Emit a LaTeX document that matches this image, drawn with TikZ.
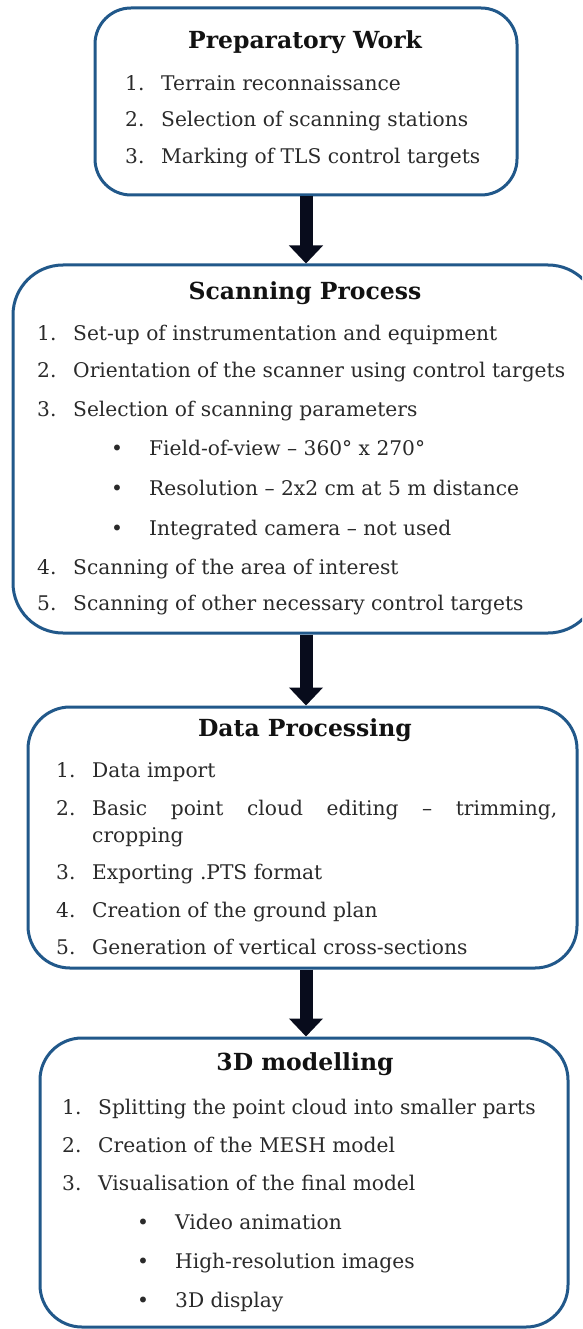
\documentclass[tikz,border=0pt]{standalone}
\usepackage{fontspec}
\setmainfont{DejaVu Serif}
\usetikzlibrary{arrows.meta}

\definecolor{boxblue}{RGB}{33,88,138}
\definecolor{inkgray}{RGB}{42,42,42}
\definecolor{titleink}{RGB}{18,18,18}
\definecolor{arrowink}{RGB}{8,12,28}

% number column and bullet column of the step lists
\newcommand\stepno[1]{\makebox[36pt][l]{#1}}
\newcommand\bulletmark{\makebox[38pt][l]{\textbullet}}

\begin{document}
\begin{tikzpicture}[x=1pt,y=-1pt,
  stage/.style={draw=boxblue, line width=3pt, rounded corners=#1, inner sep=0pt, fill=white},
  heading/.style={font=\bfseries\fontsize{23.5}{28}\selectfont, text=titleink, anchor=mid, inner sep=0pt},
  entry/.style={font=\fontsize{20.2}{24}\selectfont, text=inkgray, anchor=mid west, inner sep=0pt},
  flow/.style={draw=arrowink, line width=13pt, -{Triangle[width=33pt,length=18pt]}}]

\useasboundingbox (0,0) rectangle (582,1329);
\fill[white] (0,0) rectangle (582,1329);
\clip (0,0) rectangle (582,1329);

% ---- the four stages ----
\node[stage=36pt, minimum width=422pt, minimum height=187pt] (prep) at (306,101.5) {};
\node[stage=50pt, minimum width=585pt, minimum height=368pt] (scan) at (305.5,449) {};
\node[stage=42pt, minimum width=549pt, minimum height=261pt] (proc) at (302.5,837.5) {};
\node[stage=42pt, minimum width=528pt, minimum height=289pt] (model) at (304,1182.5) {};

% ---- block arrows between stages ----
\draw[flow] (prep.south) -- (prep.south |- scan.north);
\draw[flow] (prep.south |- scan.south) -- (prep.south |- proc.north);
\draw[flow] (prep.south |- proc.south) -- (prep.south |- model.north);

% ---- Preparatory Work ----
\node[heading] (prepT) at (305,46) {Preparatory Work};
\node[entry] (prep1) at (125,88) {\stepno{1.}Terrain reconnaissance};
\node[entry] (prep2) at (125,124) {\stepno{2.}Selection of scanning stations};
\node[entry] (prep3) at (125,161) {\stepno{3.}Marking of TLS control targets};

% ---- Scanning Process ----
\node[heading] (scanT) at (305,297) {Scanning Process};
\node[entry] (scan1) at (37,338) {\stepno{1.}Set-up of instrumentation and equipment};
\node[entry] (scan2) at (37,375) {\stepno{2.}Orientation of the scanner using control targets};
\node[entry] (scan3) at (37,414) {\stepno{3.}Selection of scanning parameters};
\node[entry] (scan3a) at (111,453) {\bulletmark Field-of-view – 360° x 270°};
\node[entry] (scan3b) at (111,493) {\bulletmark Resolution – 2x2 cm at 5 m distance};
\node[entry] (scan3c) at (111,533) {\bulletmark Integrated camera – not used};
\node[entry] (scan4) at (37,572) {\stepno{4.}Scanning of the area of interest};
\node[entry] (scan5) at (37,608) {\stepno{5.}Scanning of other necessary control targets};

% ---- Data Processing ----
\node[heading] (procT) at (305,734) {Data Processing};
\node[entry] (proc1) at (56,775) {\stepno{1.}Data import};
\node[entry] (proc2) at (56,813) {\stepno{2.}\makebox[465pt][s]{Basic point cloud editing – trimming,}};
\node[entry] (proc2b) at (92,840) {cropping};
\node[entry] (proc3) at (56,877) {\stepno{3.}Exporting .PTS format};
\node[entry] (proc4) at (56,915) {\stepno{4.}Creation of the ground plan};
\node[entry] (proc5) at (56,952) {\stepno{5.}Generation of vertical cross-sections};

% ---- 3D modelling ----
\node[heading] (modelT) at (305,1068) {3D modelling};
\node[entry] (model1) at (62,1112) {\stepno{1.}Splitting the point cloud into smaller parts};
\node[entry] (model2) at (62,1150) {\stepno{2.}Creation of the MESH model};
\node[entry] (model3) at (62,1188) {\stepno{3.}Visualisation of the final model};
\node[entry] (model3a) at (137,1227) {\bulletmark Video animation};
\node[entry] (model3b) at (137,1266) {\bulletmark High-resolution images};
\node[entry] (model3c) at (137,1305) {\bulletmark 3D display};
\end{tikzpicture}
\end{document}
